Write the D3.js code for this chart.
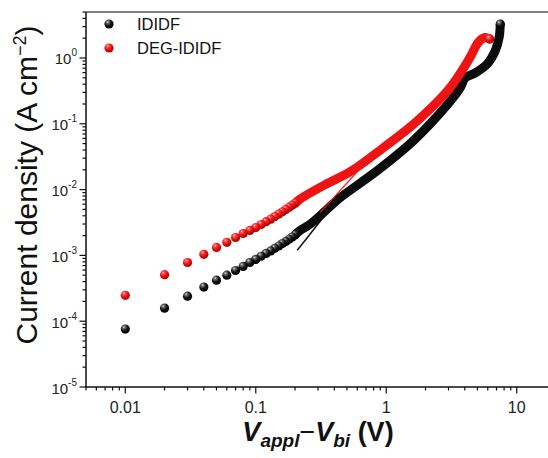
<!DOCTYPE html>
<html>
<head>
<meta charset="utf-8">
<script src="https://cdn.jsdelivr.net/npm/d3@7"></script>
<style>
  html, body { margin: 0; padding: 0; background: #fff; }
  svg { display: block; }
  text { font-family: "Liberation Sans", Arial, Helvetica, sans-serif; }
</style>
</head>
<body>
<svg id="chart" width="548" height="458"></svg>
<script>
// ---- data -------------------------------------------------------------
const seriesNames = ["IDIDF", "DEG-IDIDF"];

// low-bias points (individual markers)
const lowBiasV = [0.01, 0.02, 0.03, 0.04, 0.05, 0.06, 0.07, 0.08, 0.09, 0.10,
                  0.11, 0.12, 0.13, 0.14, 0.15, 0.16, 0.17, 0.18, 0.19, 0.20];
const ididfLowJ = [7.6e-5, 1.58e-4, 2.4e-4, 3.3e-4, 4.2e-4, 5.0e-4, 5.9e-4, 6.8e-4, 7.8e-4, 8.7e-4,
                   9.7e-4, 1.07e-3, 1.17e-3, 1.28e-3, 1.39e-3, 1.51e-3, 1.63e-3, 1.76e-3, 1.90e-3, 2.05e-3];
const degLowJ = [2.47e-4, 5.1e-4, 7.8e-4, 1.04e-3, 1.32e-3, 1.58e-3, 1.87e-3, 2.15e-3, 2.4e-3, 2.65e-3,
                 2.95e-3, 3.25e-3, 3.55e-3, 3.9e-3, 4.25e-3, 4.6e-3, 5.0e-3, 5.4e-3, 5.8e-3, 6.2e-3];

// high-bias points, densely sampled so the markers merge into a band
const ididfHighV = [0.20, 0.219, 0.262, 0.392, 0.445, 0.853, 1.61, 2.97, 3.69, 4.03, 4.81, 5.94, 6.84, 7.34, 7.48];
const ididfHighJ = [2.05e-3, 2.4e-3, 3.0e-3, 6.1e-3, 7.6e-3, 0.0194, 0.055, 0.20, 0.351, 0.498, 0.593, 0.811, 1.28, 2.08, 3.27];
const degHighV = [0.20, 0.219, 0.34, 0.53, 0.95, 1.73, 3.0, 4.3, 5.1, 5.7, 6.2];
const degHighJ = [6.2e-3, 7.2e-3, 0.0119, 0.0187, 0.0433, 0.111, 0.33, 0.95, 1.75, 2.05, 1.95];

// space-charge-limited fits
const fitIdidfV = [0.208, 0.45];
const fitIdidfJ = [1.2e-3, 8.3e-3];
const fitDegV = [0.312, 0.633];
const fitDegJ = [4.5e-3, 0.021];

// axes
const xDomain = [0.005, 20];
const yDomain = [1e-5, 5];
const xTickValues = [0.01, 0.1, 1, 10];
const xTickLabels = ["0.01", "0.1", "1", "10"];
const yTickExponents = [-5, -4, -3, -2, -1, 0];

// ---- layout -------------------------------------------------------------
const svg = d3.select("#chart");
const plot = { left: 86, top: 12, bottom: 387, right: 556 };

const x = d3.scaleLog().domain(xDomain).range([plot.left, plot.right]);
const y = d3.scaleLog().domain(yDomain).range([plot.bottom, plot.top]);

const colors = { black: "#0c0c0c", red: "#ee1414" };

// sphere-like marker shading
const defs = svg.append("defs");
function sphere(id, stops) {
  const g = defs.append("radialGradient").attr("id", id)
    .attr("cx", "38%").attr("cy", "32%").attr("r", "68%").attr("fx", "35%").attr("fy", "28%");
  stops.forEach(([o, c]) => g.append("stop").attr("offset", o).attr("stop-color", c));
}
sphere("ballBlack", [["0%", "#d8d8d8"], ["22%", "#6a6a6a"], ["55%", "#151515"], ["100%", "#000"]]);
sphere("ballRed", [["0%", "#ffd6d6"], ["22%", "#ff4a4a"], ["58%", "#e80f0f"], ["100%", "#a80000"]]);

// ---- axes -------------------------------------------------------------
const axisG = svg.append("g");

// frame lines
axisG.append("line").attr("x1", plot.left).attr("x2", plot.right)
  .attr("y1", plot.top).attr("y2", plot.top).attr("stroke", "#555").attr("stroke-width", 1.5);
axisG.append("line").attr("x1", plot.left).attr("x2", plot.left)
  .attr("y1", plot.top).attr("y2", plot.bottom + 0.75).attr("stroke", "#111").attr("stroke-width", 1.5);
axisG.append("line").attr("x1", plot.left - 0.75).attr("x2", plot.right)
  .attr("y1", plot.bottom).attr("y2", plot.bottom).attr("stroke", "#111").attr("stroke-width", 1.5);

// x ticks
const xMinor = [];
for (let e = -3; e <= 1; e++) for (let m = 1; m <= 9; m++) {
  const v = m * Math.pow(10, e);
  if (v >= xDomain[0] && v <= xDomain[1]) xMinor.push(v);
}
axisG.selectAll(".xt").data(xMinor).join("line")
  .attr("x1", d => x(d)).attr("x2", d => x(d))
  .attr("y1", plot.bottom)
  .attr("y2", d => plot.bottom + (xTickValues.some(t => Math.abs(t - d) / t < 1e-9) ? 6.5 : 3.5))
  .attr("stroke", "#111").attr("stroke-width", 1.2);
axisG.selectAll(".xl").data(xTickValues).join("text")
  .attr("x", d => x(d)).attr("y", 413)
  .attr("text-anchor", "middle").attr("font-size", 16).attr("fill", "#222")
  .text((d, i) => xTickLabels[i]);

// y ticks
const yMinor = [];
for (let e = -5; e <= 0; e++) for (let m = 1; m <= 9; m++) {
  const v = m * Math.pow(10, e);
  if (v >= yDomain[0] * 0.999 && v <= yDomain[1]) yMinor.push({ v, major: m === 1 });
}
axisG.selectAll(".yt").data(yMinor).join("line")
  .attr("y1", d => y(d.v)).attr("y2", d => y(d.v))
  .attr("x1", plot.left)
  .attr("x2", d => plot.left - (d.major ? 6.5 : 3.5))
  .attr("stroke", "#111").attr("stroke-width", 1.2);
const yl = axisG.selectAll(".yl").data(yTickExponents).join("text")
  .attr("x", 77).attr("y", d => y(Math.pow(10, d)) + 6.5)
  .attr("text-anchor", "end").attr("font-size", 15).attr("fill", "#222");
yl.append("tspan").text("10");
yl.append("tspan").attr("dy", -8).attr("font-size", 10).text(d => d === 0 ? "0" : "-" + Math.abs(d));

// axis titles
svg.append("text")
  .attr("transform", "translate(37,185) rotate(-90)")
  .attr("text-anchor", "middle").attr("font-size", 30).attr("fill", "#111")
  .call(t => {
    t.append("tspan").text("Current density (A cm");
    t.append("tspan").attr("dy", -11).attr("font-size", 18).text("\u22122");
    t.append("tspan").attr("dy", 11).text(")");
  });

svg.append("text")
  .attr("x", 318).attr("y", 441)
  .attr("text-anchor", "middle").attr("font-size", 27).attr("font-weight", "bold").attr("fill", "#111")
  .call(t => {
    t.append("tspan").attr("font-style", "italic").text("V");
    t.append("tspan").attr("font-style", "italic").attr("font-size", 19).attr("dy", 6).text("appl");
    t.append("tspan").attr("font-weight", "normal").attr("dy", -6).text("\u2212");
    t.append("tspan").attr("font-style", "italic").text("V");
    t.append("tspan").attr("font-style", "italic").attr("font-size", 19).attr("dy", 6).text("bi");
    t.append("tspan").attr("dy", -6).text(" (V)");
  });

// ---- data marks -------------------------------------------------------------
const line = d3.line().x(d => x(d[0])).y(d => y(d[1])).curve(d3.curveCatmullRom.alpha(0.5));
const zip = (a, b) => a.map((v, i) => [v, b[i]]);

const series = [
  { name: seriesNames[0], low: zip(lowBiasV, ididfLowJ), high: zip(ididfHighV, ididfHighJ), color: colors.black, ball: "url(#ballBlack)" },
  { name: seriesNames[1], low: zip(lowBiasV, degLowJ), high: zip(degHighV, degHighJ), color: colors.red, ball: "url(#ballRed)" }
];

const marks = svg.append("g");
series.forEach(s => {
  const g = marks.append("g");
  g.append("path").datum(s.high).attr("d", line)
    .attr("fill", "none").attr("stroke", s.color).attr("stroke-width", 9)
    .attr("stroke-linecap", "round").attr("stroke-linejoin", "round");
  g.selectAll("circle.low").data(s.low.slice().reverse()).join("circle")
    .attr("cx", d => x(d[0])).attr("cy", d => y(d[1])).attr("r", 4.6)
    .attr("fill", s.ball);
  const last = s.high[s.high.length - 1];
  g.append("circle").attr("cx", x(last[0])).attr("cy", y(last[1])).attr("r", 4.6).attr("fill", s.ball);
});

// fit lines
marks.append("path").datum(zip(fitIdidfV, fitIdidfJ)).attr("d", d3.line().x(d => x(d[0])).y(d => y(d[1])))
  .attr("stroke", "#111").attr("stroke-width", 1.5).attr("fill", "none");
marks.append("path").datum(zip(fitDegV, fitDegJ)).attr("d", d3.line().x(d => x(d[0])).y(d => y(d[1])))
  .attr("stroke", "#f01818").attr("stroke-width", 1.3).attr("fill", "none");

// ---- legend -------------------------------------------------------------
const legend = svg.append("g");
series.forEach((s, i) => {
  legend.append("circle").attr("cx", 109).attr("cy", 24 + i * 24).attr("r", 4.6).attr("fill", s.ball);
  legend.append("text").attr("x", 137).attr("y", 30 + i * 24)
    .attr("font-size", 16.5).attr("fill", "#111").text(s.name);
});
</script>
</body>
</html>
